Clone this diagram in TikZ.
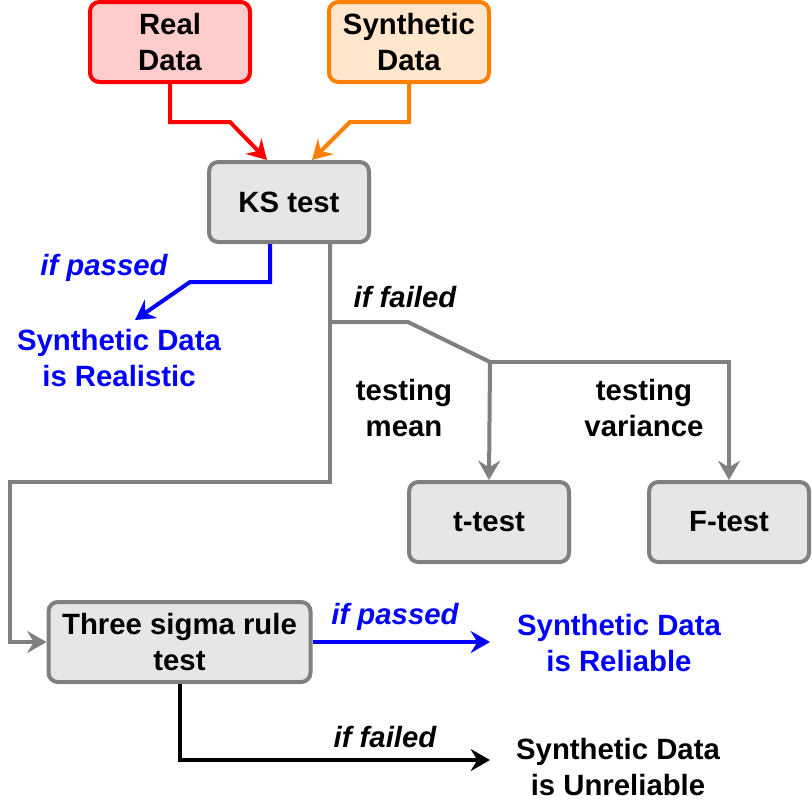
\documentclass[tikz,border=0pt]{standalone}
\usepackage{fontspec}
\setmainfont{Liberation Sans}
\usetikzlibrary{arrows.meta,calc}
\definecolor{cgray}{HTML}{808080}
\definecolor{cfill}{HTML}{E6E6E6}
\definecolor{cpink}{HTML}{FFCCCC}
\definecolor{cpeach}{HTML}{FFE6CC}
\definecolor{corange}{HTML}{FF8000}
\definecolor{cblue}{HTML}{0000FF}
\begin{document}
\begin{tikzpicture}[x=0.75pt,y=-0.75pt,
 box/.style={draw=cgray, fill=cfill, line width=3pt, rounded corners=7pt, minimum width=120pt, minimum height=60pt, inner sep=0pt, align=center, font=\fontsize{22}{26.5}\selectfont\bfseries},
 lbl/.style={align=center, inner sep=0pt, font=\fontsize{22}{26.5}\selectfont\bfseries},
 ilbl/.style={align=center, inner sep=0pt, font=\fontsize{22}{26.5}\selectfont\bfseries\itshape},
 conn/.style={line width=3pt, -{Stealth[length=14.5pt,width=16.5pt,inset=5pt]}},
]
\useasboundingbox (0,0) rectangle (812,804);

\node[box, draw=red, fill=cpink] (real) at (170,42) {Real\\Data};
\node[box, draw=corange, fill=cpeach] (syn) at (409,42) {Synthetic\\Data};
\node[box] (ks) at (289,202) {KS test};
\node[box] (tt) at (489,522) {t-test};
\node[box] (ft) at (729,522) {F-test};
\node[box, minimum width=196.5pt] (three) at (179.5,642) {Three sigma rule\\test};

\node[ilbl, text=cblue] (ifp1) at (104,268) {if passed};
\node[lbl, text=cblue] (realistic) at (119,358) {Synthetic Data\\is Realistic};
\node[ilbl] (iff1) at (405,297) {if failed};
\node[lbl] (tmean) at (404,408) {testing\\mean};
\node[lbl] (tvar) at (644,408) {testing\\variance};
\node[ilbl, text=cblue] (ifp2) at (395,617) {if passed};
\node[lbl, text=cblue] (reliable) at (619,643) {Synthetic Data\\is Reliable};
\node[ilbl] (iff2) at (385,737) {if failed};
\node[lbl] (unreliable) at (618,767) {Synthetic Data\\is Unreliable};

\coordinate (realtip) at (135,320);
\coordinate (reltip) at (490,642);
\coordinate (unreltip) at (490,760);

% inputs to KS
\draw[conn, red] (real.south) -- (170,122) -- (230,122) -- ($(ks.north)+(-22,0)$);
\draw[conn, corange] (syn.south) -- (409,122) -- (350,122) -- ($(ks.north)+(23,0)$);

% KS passed
\draw[conn, cblue] ($(ks.south)+(-19,0)$) -- (270,282) -- (190,282) -- (realtip);

% KS failed
\draw[conn, cgray] ($(ks.south)+(41,0)$) -- (330,322) -- (408,322) -- (490,362) -- (tt.north);
\draw[conn, cgray] (490,362) -| (ft.north);
\draw[conn, cgray] (330,322) -- (330,482) -- (10,482) -- (10,642) -- (three.west);

% three sigma outputs
\draw[conn, cblue] (three.east) -- (reltip);
\draw[conn, black] ($(three.south)+(0.5,0)$) -- (180,760) -- (unreltip);
\end{tikzpicture}
\end{document}
